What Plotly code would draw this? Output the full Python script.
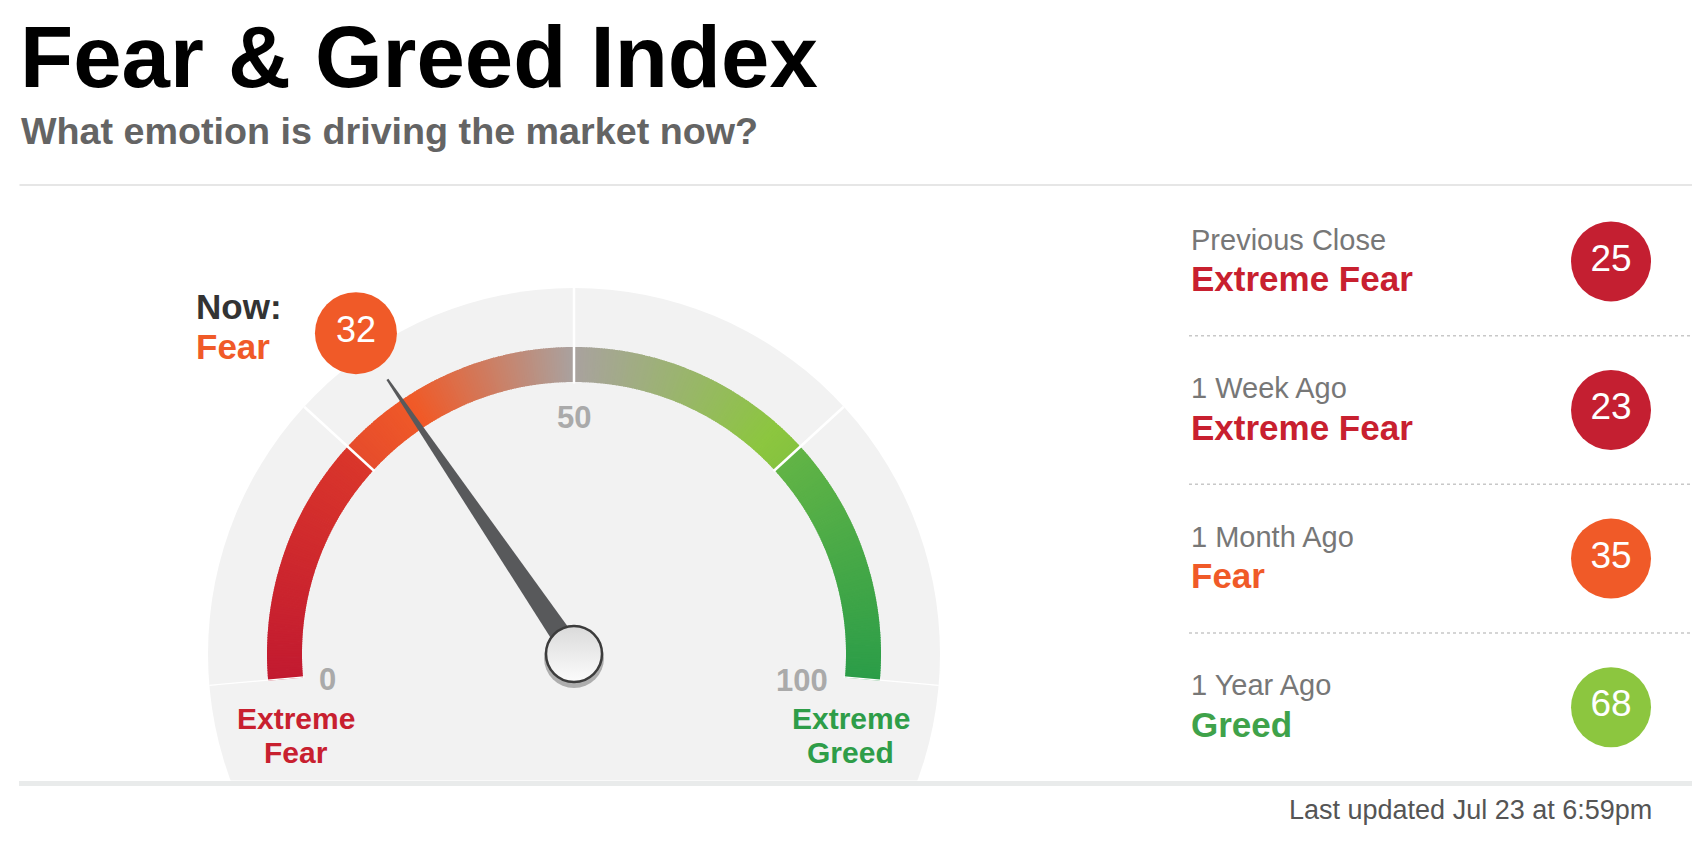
import math
import plotly.graph_objects as go

# ---------------- data ----------------
title_text = "Fear & Greed Index"
subtitle_text = "What emotion is driving the market now?"
updated_text = "Last updated Jul 23 at 6:59pm"

now_score = 32
now_rating = "Fear"

periods = ["Previous Close", "1 Week Ago", "1 Month Ago", "1 Year Ago"]
period_ratings = ["Extreme Fear", "Extreme Fear", "Fear", "Greed"]
period_scores = [25, 23, 35, 68]

band_edges = [0, 25, 50, 75, 100]
gauge_tick_values = [0, 50, 100]
gauge_tick_labels = ["0", "50", "100"]
end_label_left = ["Extreme", "Fear"]
end_label_right = ["Extreme", "Greed"]

# ---------------- styles ----------------
W, H = 1701, 842
FONT = "Liberation Sans, Arial, Helvetica, sans-serif"
CX, CY = 574, 654          # gauge centre (px)
R_PX = 366                 # grey disc radius (px) == radial value 1
R_MAX = 1.2
DEG_PER_UNIT = 1.9         # gauge spans 190 degrees
ROT = 185
ARC_IN, ARC_OUT = 272 / 366, 307 / 366
TICK_LABEL_R = [0.677, 0.645, 0.626]
TICK_LABEL_DY = [26 - 0.677 * R_PX * math.sin(math.radians(5)), 0,
                 26 - 0.626 * R_PX * math.sin(math.radians(5))]

RATING_COLORS = {"Extreme Fear": "#c41f31", "Fear": "#f05a28",
                 "Greed": "#8cc63f", "Extreme Greed": "#2b9d48"}
RATING_TEXT_COLORS = {"Extreme Fear": "#c8202f", "Fear": "#f05a28",
                      "Greed": "#3fa24a", "Extreme Greed": "#2e9d48"}

grad_stops = [(0, "#c21a30"), (25, "#da362b"), (25, "#e64c2c"), (33, "#f05a28"),
              (50, "#a9a29f"), (72, "#8cc63f"), (75, "#86c33f"), (75, "#62b446"),
              (100, "#2b9d48")]


def px_x(x):
    return x / W


def px_y(y):
    return (H - y) / H


def hex2rgb(h):
    h = h.lstrip("#")
    return tuple(int(h[i:i + 2], 16) for i in (0, 2, 4))


def grad_color(v):
    for (v0, c0), (v1, c1) in zip(grad_stops[:-1], grad_stops[1:]):
        if v0 <= v <= v1 and v1 > v0:
            t = (v - v0) / (v1 - v0)
            a, b = hex2rgb(c0), hex2rgb(c1)
            return "rgb(%d,%d,%d)" % tuple(round(a[i] + (b[i] - a[i]) * t) for i in range(3))
    return grad_stops[-1][1]


def to_theta(v):
    return v * DEG_PER_UNIT


def gauge_px(v, r):
    ang = math.radians(ROT - to_theta(v))
    return CX + r * R_PX * math.cos(ang), CY - r * R_PX * math.sin(ang)


fig = go.Figure()

# ---- coloured gauge arc, rendered as thin polar bars across each band ----
step = 0.25
for lo, hi in zip(band_edges[:-1], band_edges[1:]):
    n = int(round((hi - lo) / step))
    centers = [lo + step * (i + 0.5) for i in range(n)]
    fig.add_trace(go.Barpolar(
        theta=[to_theta(c) for c in centers],
        r=[ARC_OUT - ARC_IN] * n,
        base=[ARC_IN] * n,
        width=[step * DEG_PER_UNIT * 1.35] * n,
        marker=dict(color=[grad_color(c) for c in centers], line=dict(width=0)),
        hoverinfo="skip", showlegend=False))

# ---- white tick separators at band edges ----
tt, tr = [], []
for v in band_edges:
    tt += [to_theta(v), to_theta(v), None]
    tr += [ARC_IN - 0.004, 1.0, None]
fig.add_trace(go.Scatterpolar(theta=tt, r=tr, mode="lines",
                              line=dict(color="white", width=2.5),
                              hoverinfo="skip", showlegend=False, cliponaxis=False))
# faint chord joining the two ends of the dial
fig.add_trace(go.Scatterpolar(theta=[to_theta(band_edges[0]), to_theta(band_edges[-1])], r=[1.0, 1.0],
                              mode="lines", line=dict(color="rgba(255,255,255,0.9)", width=1.5),
                              hoverinfo="skip", showlegend=False, cliponaxis=False))

# ---- needle ----
tv = to_theta(now_score)
fig.add_trace(go.Scatterpolar(
    theta=[tv + 90, tv + 0.2, tv - 0.2, tv - 90, tv + 90],
    r=[0.03, 0.907, 0.907, 0.03, 0.03],
    mode="lines", fill="toself", fillcolor="#58595b", line=dict(width=0, color="#58595b"),
    hoverinfo="skip", showlegend=False, cliponaxis=False))

# ---- pivot ----
fig.add_trace(go.Scatterpolar(
    theta=[0], r=[0], mode="markers",
    marker=dict(size=56, color="#dadada", gradient=dict(type="vertical", color="#fcfcfc"),
                line=dict(color="#3c3c3c", width=2.5)),
    hoverinfo="skip", showlegend=False, cliponaxis=False))

# ---- current value bubble ----
fig.add_trace(go.Scatterpolar(
    theta=[tv], r=[1.06], mode="markers+text", text=[str(now_score)],
    marker=dict(size=82, color=RATING_COLORS[now_rating], line=dict(width=0)),
    textfont=dict(family=FONT, size=36, color="white"), textposition="middle center",
    hoverinfo="skip", showlegend=False, cliponaxis=False))

# ---- right panel circles ----
fig.add_trace(go.Scatter(
    x=[0.839] * len(period_scores), y=list(range(len(period_scores))),
    mode="markers+text", text=[str(s) for s in period_scores],
    marker=dict(size=80, color=[RATING_COLORS[r] for r in period_ratings], line=dict(width=0)),
    textfont=dict(family=FONT, size=37, color="white"), textposition="middle center",
    hoverinfo="skip", showlegend=False, cliponaxis=False, xaxis="x", yaxis="y"))

sin5 = math.sin(math.radians(ROT - 180))
fig.update_layout(
    width=W, height=H, margin=dict(l=0, r=0, t=0, b=0),
    paper_bgcolor="white", plot_bgcolor="rgba(0,0,0,0)", showlegend=False,
    hovermode=False,
    polar=dict(
        domain=dict(x=[px_x(CX - R_MAX * R_PX), px_x(CX + R_MAX * R_PX)],
                    y=[px_y(CY + sin5 * R_MAX * R_PX), px_y(CY - R_MAX * R_PX)]),
        sector=[180 - ROT, ROT], hole=0, bgcolor="rgba(0,0,0,0)",
        radialaxis=dict(range=[0, R_MAX], visible=False),
        angularaxis=dict(rotation=ROT, direction="clockwise", visible=False),
    ),
    xaxis=dict(domain=[px_x(1189), px_x(1692)], range=[0, 1], visible=False, fixedrange=True),
    yaxis=dict(domain=[px_y(261.4 + 148.6 * 3.5), px_y(261.4 - 148.6 * 0.5)],
               range=[3.5, -0.5], visible=False, fixedrange=True),
)

shapes = [
    dict(type="circle", xref="paper", yref="paper", layer="below",
         x0=px_x(CX - R_PX), x1=px_x(CX + R_PX), y0=px_y(CY + R_PX), y1=px_y(CY - R_PX),
         fillcolor="#f2f2f2", line=dict(width=0)),
    dict(type="rect", xref="paper", yref="paper", layer="below",
         x0=px_x(150), x1=px_x(1000), y0=-0.2, y1=px_y(780.5),
         fillcolor="white", line=dict(width=0)),
    dict(type="rect", xref="paper", yref="paper", layer="below",
         x0=px_x(19), x1=px_x(1692), y0=px_y(786), y1=px_y(781),
         fillcolor="#e9ebeb", line=dict(width=0)),
    dict(type="rect", xref="paper", yref="paper", layer="below",
         x0=px_x(19.5), x1=px_x(1692), y0=px_y(186), y1=px_y(184),
         fillcolor="#e6e6e6", line=dict(width=0)),
    # soft shadow under the pivot
    dict(type="circle", xref="paper", yref="paper", layer="below",
         x0=px_x(CX - 30), x1=px_x(CX + 30), y0=px_y(CY + 34), y1=px_y(CY - 26),
         fillcolor="rgba(0,0,0,0.28)", line=dict(width=0)),
]
for i in range(len(periods) - 1):
    shapes.append(dict(type="line", xref="x", yref="y", layer="below",
                       x0=0, x1=1, y0=i + 0.5, y1=i + 0.5,
                       line=dict(color="#c8c8c8", width=1.5, dash="dot")))
fig.update_layout(shapes=shapes)

ann = []
ann.append(dict(text=title_text, x=px_x(18), y=px_y(56.5), xref="paper", yref="paper",
                xanchor="left", yanchor="middle", showarrow=False,
                font=dict(family=FONT, size=87, color="#000000", weight="bold")))
ann.append(dict(text=subtitle_text, x=px_x(19), y=px_y(130.5), xref="paper", yref="paper",
                xanchor="left", yanchor="middle", showarrow=False,
                font=dict(family=FONT, size=37.7, color="#646464", weight="bold")))
ann.append(dict(text="Now:", x=px_x(194), y=px_y(306), xref="paper", yref="paper",
                xanchor="left", yanchor="middle", showarrow=False,
                font=dict(family=FONT, size=35, color="#333333", weight="bold")))
ann.append(dict(text=now_rating, x=px_x(194), y=px_y(346), xref="paper", yref="paper",
                xanchor="left", yanchor="middle", showarrow=False,
                font=dict(family=FONT, size=35, color=RATING_TEXT_COLORS[now_rating], weight="bold")))
# gauge tick labels, placed through the gauge geometry
for v, lab, rr, dy in zip(gauge_tick_values, gauge_tick_labels, TICK_LABEL_R, TICK_LABEL_DY):
    gx, gy = gauge_px(v, rr)
    ann.append(dict(text=lab, x=px_x(gx), y=px_y(gy + dy), xref="paper", yref="paper",
                    xanchor="center", yanchor="middle", showarrow=False,
                    font=dict(family=FONT, size=31, color="#aaaaaa", weight="bold")))
for j, (wl, wr) in enumerate(zip(end_label_left, end_label_right)):
    yy = 718 + 34 * j
    ann.append(dict(text=wl, x=px_x(296), y=px_y(yy), xref="paper", yref="paper",
                    xanchor="center", yanchor="middle", showarrow=False,
                    font=dict(family=FONT, size=30, color="#c8202f", weight="bold")))
    ann.append(dict(text=wr, x=px_x(850.5), y=px_y(yy), xref="paper", yref="paper",
                    xanchor="center", yanchor="middle", showarrow=False,
                    font=dict(family=FONT, size=30, color="#2e9d48", weight="bold")))
for i, (p, rt) in enumerate(zip(periods, period_ratings)):
    ann.append(dict(text=p, x=0, y=i, xref="x", yref="y", yshift=21.7,
                    xanchor="left", yanchor="middle", showarrow=False,
                    font=dict(family=FONT, size=29, color="#777777")))
    ann.append(dict(text=rt, x=0, y=i, xref="x", yref="y", yshift=-17.4,
                    xanchor="left", yanchor="middle", showarrow=False,
                    font=dict(family=FONT, size=35, color=RATING_TEXT_COLORS[rt], weight="bold")))
ann.append(dict(text=updated_text, x=px_x(1654), y=px_y(810), xref="paper", yref="paper",
                xanchor="right", yanchor="middle", showarrow=False,
                font=dict(family=FONT, size=27, color="#555555")))
fig.update_layout(annotations=ann)

fig.write_html("out.html", config={"displayModeBar": False},
               post_script="document.body.style.margin='0';document.body.style.overflow='hidden';")
